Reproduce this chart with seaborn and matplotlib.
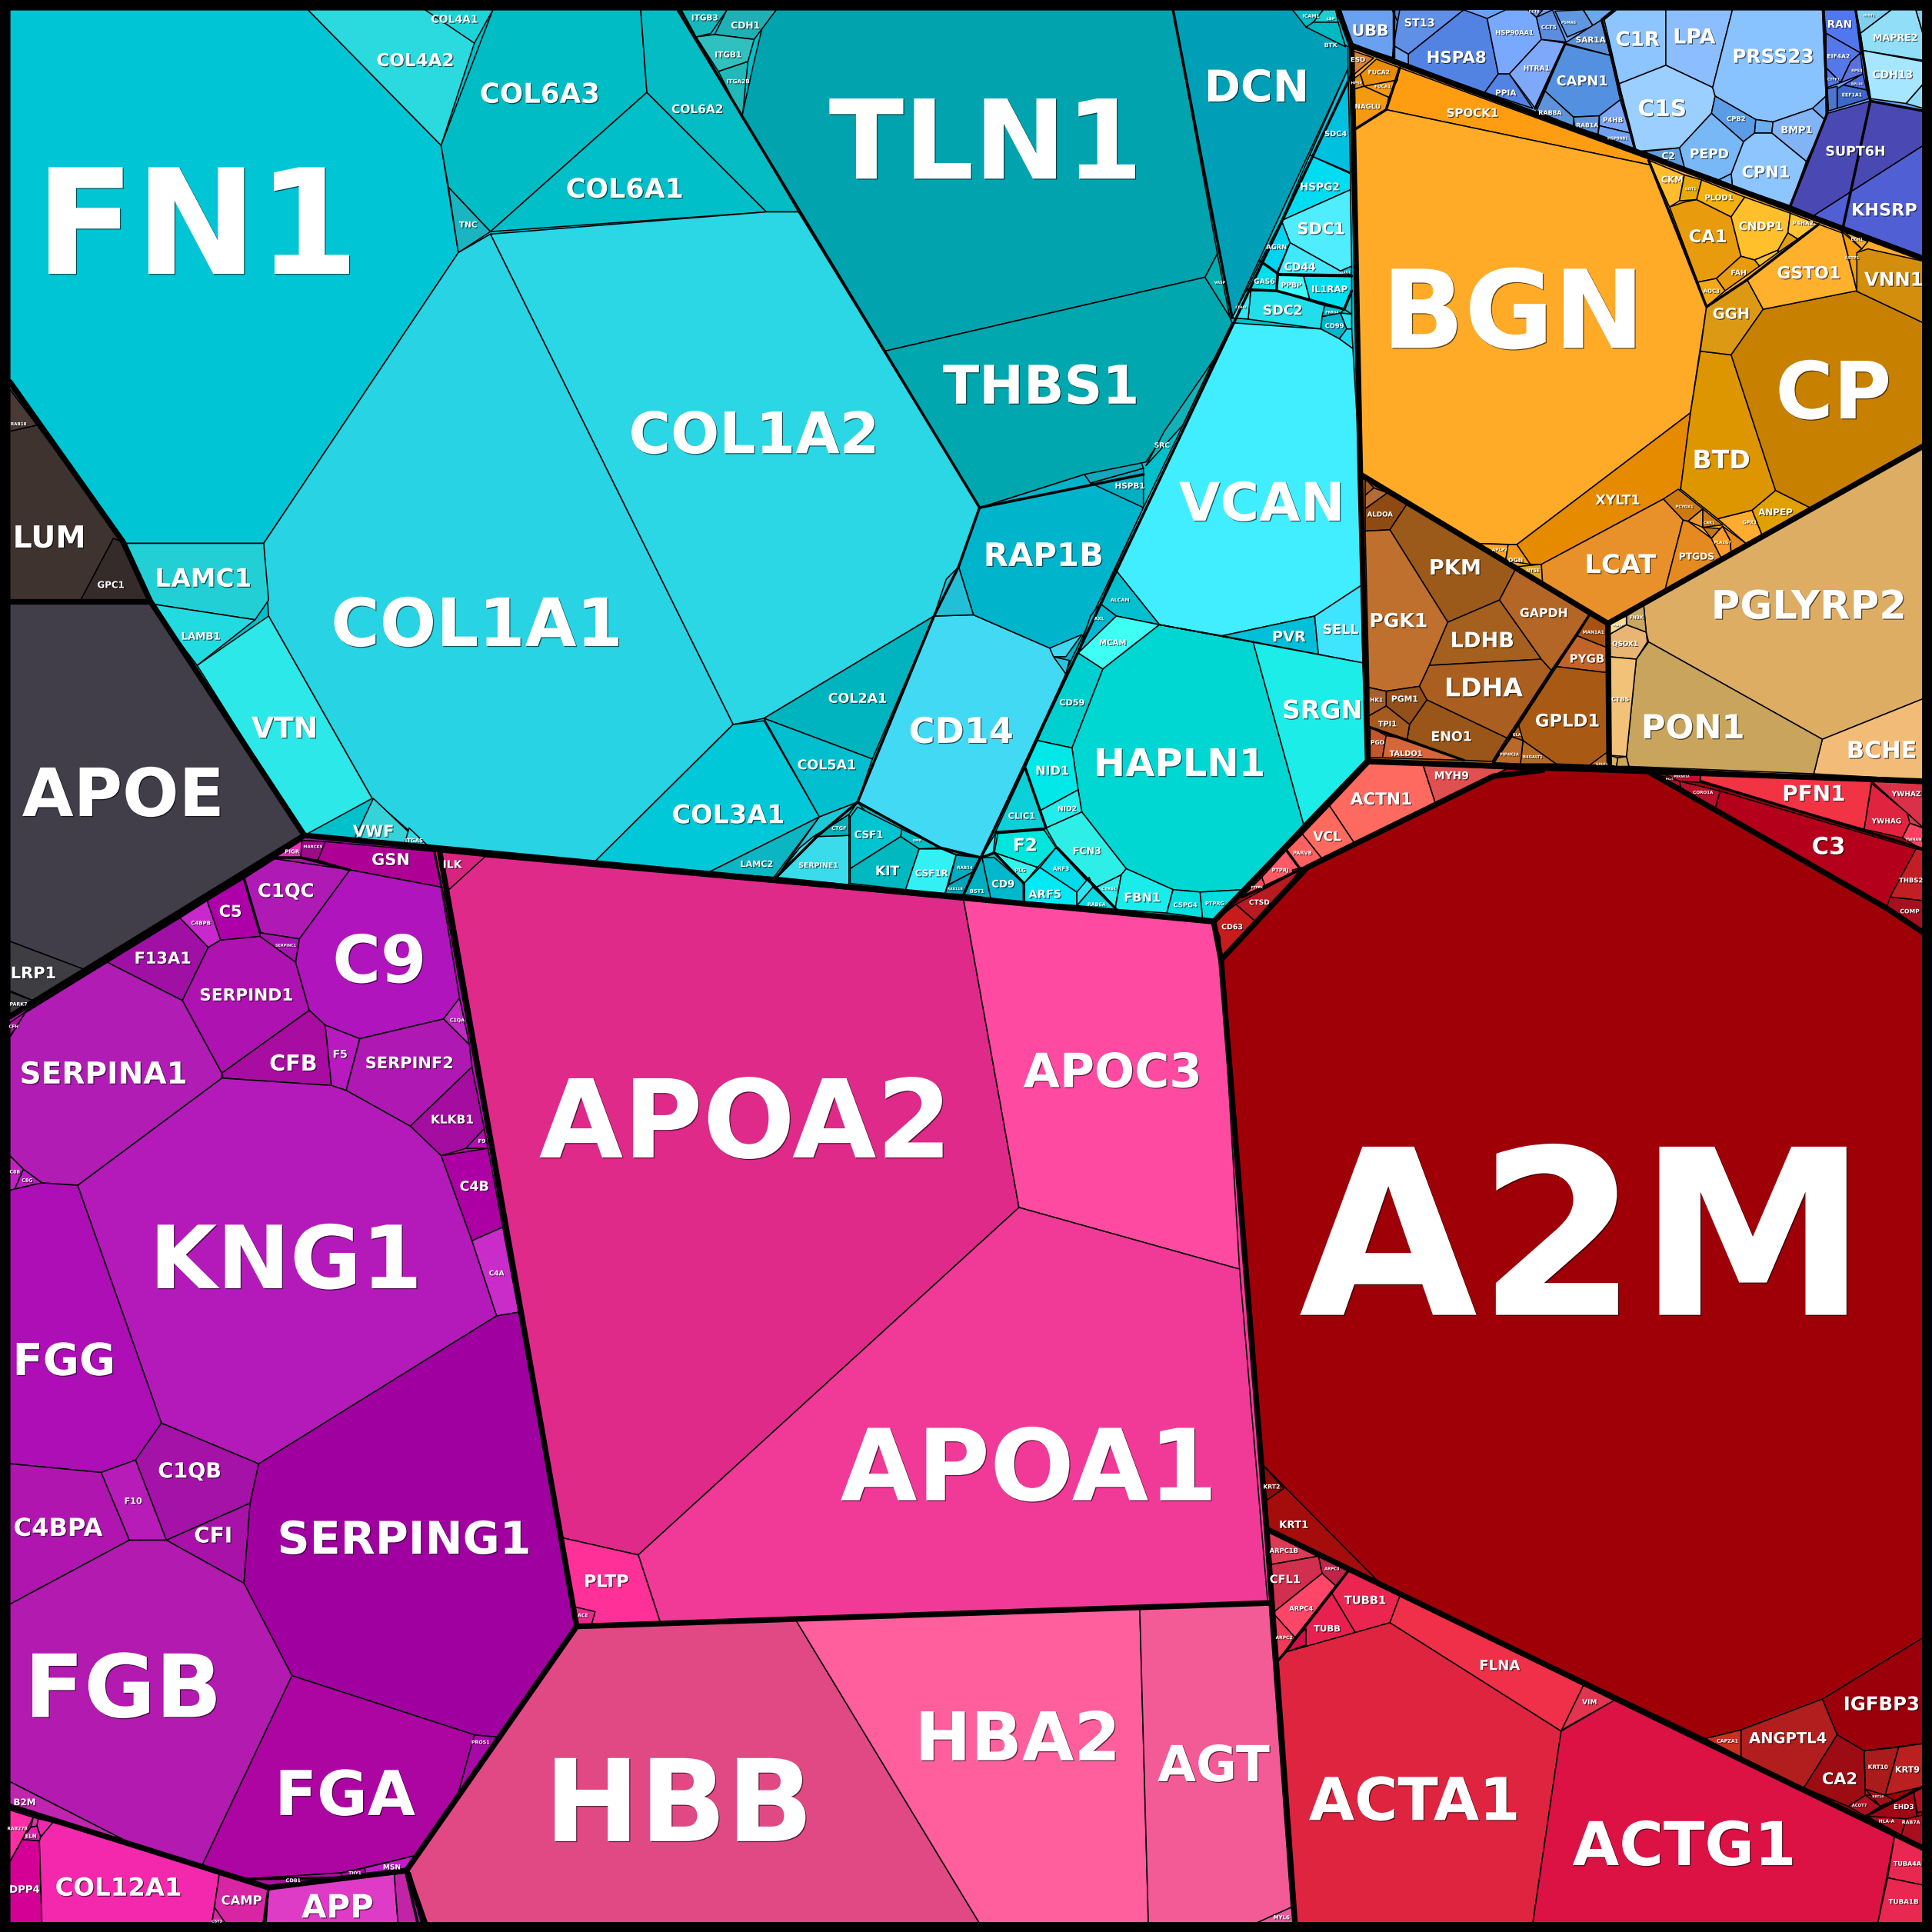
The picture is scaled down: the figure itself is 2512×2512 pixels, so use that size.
"""Voronoi treemap of plasma proteins, redrawn from picture read-offs."""
import matplotlib

matplotlib.use("Agg")
import matplotlib.patheffects as pe
import matplotlib.pyplot as plt
import seaborn as sns

CANVAS = 1568

# Underlay per top-level region, so that tiny cells left out don't show as holes.
region_outlines = {
    "matrix": [(8, 8), (1090, 8), (1097, 38), (1104, 385), (1110, 618), (985, 748), (247, 678), (122, 488), (8, 310)],
    "blue": [(1088, 8), (1561, 8), (1561, 210), (1096, 37)],
    "orange": [(1096, 38), (1561, 210), (1561, 362), (1305, 506), (1104, 385)],
    "brown": [(1104, 385), (1305, 506), (1306, 621), (1110, 618)],
    "beige": [(1305, 506), (1561, 362), (1561, 634), (1306, 621)],
    "red": [(985, 748), (1110, 618), (1561, 634), (1561, 1561), (1051, 1561), (1028, 1241)],
    "pink": [(357, 692), (985, 748), (1028, 1241), (1051, 1561), (345, 1561), (330, 1518), (468, 1320)],
    "purple": [(8, 825), (247, 678), (357, 692), (468, 1320), (330, 1518), (345, 1561), (8, 1561)],
    "dark": [(8, 310), (122, 488), (247, 678), (8, 825)],
}
region_fills = {
    "matrix": "#00c0cc", "blue": "#6aa0f0", "orange": "#ffab28", "brown": "#a85a14", "beige": "#ddad64",
    "red": "#9f0008", "pink": "#f13a97", "purple": "#ae10ac", "dark": "#413e49",
}

# Cell outlines, in a 1568 px frame.
outlines = {
    # matrix proteins
    "FN1": [(8, 8), (250, 8), (358, 118), (372, 205), (214, 441), (102, 441), (8, 310)],
    "COL4A2": [(250, 8), (352, 8), (385, 35), (358, 118)],
    "COL4A1": [(345, 8), (400, 8), (385, 35)],
    "COL6A3": [(400, 8), (520, 8), (525, 75), (398, 188), (364, 152), (358, 118)],
    "TNC": [(364, 152), (398, 188), (372, 205)],
    "COL6A1": [(525, 75), (622, 172), (398, 188)],
    "COL6A2": [(520, 8), (552, 8), (648, 172), (622, 172), (525, 75)],
    "COL1A2": [(398, 190), (622, 172), (648, 172), (795, 412), (778, 460), (758, 500), (620, 583), (595, 588)],
    "COL1A1": [(398, 190), (595, 588), (482, 700), (350, 690), (302, 648), (218, 500), (214, 441), (372, 205)],
    "VTN": [(218, 500), (302, 648), (247, 678), (160, 540)],
    "VWF": [(303, 648), (345, 688), (288, 680)],
    "ITGA5": [(332, 672), (350, 689), (328, 686)],
    "LAMC1": [(102, 441), (214, 441), (218, 487), (207, 503), (122, 490)],
    "LAMB1": [(122, 490), (207, 503), (160, 540)],
    "COL3A1": [(482, 700), (595, 588), (620, 585), (665, 663), (575, 708)],
    "COL2A1": [(620, 583), (758, 500), (708, 616)],
    "COL5A1": [(620, 583), (708, 616), (696, 651), (665, 663)],
    "LAMC2": [(575, 708), (665, 663), (628, 712)],
    "SERPINE1": [(630, 712), (649, 688), (660, 679), (689, 678), (689, 718)],
    "LAPM1": [(630, 712), (665, 663), (696, 651), (689, 661), (660, 679), (649, 688)],
    "CTGF": [(661, 679), (689, 661), (689, 678)],
    "x_sm1": [(689, 661), (696, 651), (702, 658), (690, 664)],
    "CD14": [(758, 500), (790, 499), (852, 526), (865, 547), (796, 696), (775, 693), (763, 688), (696, 651)],
    "RAP1B": [(795, 412), (880, 385), (928, 412), (866, 543), (852, 526), (790, 499), (778, 460)],
    "x_sm2": [(778, 460), (790, 499), (758, 500), (768, 470)],
    "HSPB1": [(885, 392), (928, 380), (928, 412)],
    "x_sm3": [(880, 385), (925, 372), (928, 380), (885, 392)],
    "CACNA2D1": [(852, 526), (878, 515), (865, 533), (855, 533)],
    "x_sm4": [(855, 533), (868, 536), (865, 547)],
    "TLN1": [(622, 8), (952, 8), (988, 206), (978, 225), (718, 285), (602, 95), (612, 50)],
    "ITGB3": [(553, 8), (590, 8), (577, 27), (565, 30)],
    "CDH1": [(590, 8), (630, 8), (612, 32), (580, 28)],
    "ITGB1": [(565, 30), (580, 28), (612, 32), (607, 50), (583, 58)],
    "ITGA2B": [(583, 58), (607, 50), (603, 90), (602, 95)],
    "THBS1": [(718, 285), (978, 225), (998, 257), (1000, 262), (985, 292), (930, 375), (880, 385), (795, 412)],
    "VASP": [(978, 225), (988, 206), (998, 257)],
    "SRC": [(985, 292), (960, 345), (930, 378), (945, 350)],
    "DCN": [(952, 8), (1050, 8), (1094, 38), (1094, 56), (1000, 258)],
    "ICAM1": [(1049, 8), (1074, 8), (1066, 18), (1060, 22)],
    "LBP": [(1074, 8), (1084, 8), (1086, 18), (1078, 20), (1066, 18)],
    "BTK": [(1060, 22), (1066, 18), (1086, 18), (1092, 38)],
    "SDC4": [(1094, 56), (1096, 140), (1063, 126)],
    "HSPG2": [(1063, 126), (1096, 141), (1096, 154), (1040, 179)],
    "SDC1": [(1040, 179), (1096, 154), (1097, 216), (1088, 220), (1047, 197)],
    "AGRN": [(1040, 179), (1047, 197), (1036, 222), (1023, 212)],
    "CD44": [(1047, 197), (1088, 220), (1097, 223), (1037, 222)],
    "DAG1": [(1088, 220), (1097, 216), (1097, 223)],
    "GAS6": [(1023, 212), (1037, 222), (1036, 236), (1012, 235)],
    "PPBP": [(1037, 223), (1058, 224), (1063, 243), (1036, 236)],
    "IL1RAP": [(1058, 224), (1097, 224), (1097, 236), (1091, 251), (1063, 243)],
    "SDC2": [(1015, 236), (1036, 236), (1075, 248), (1072, 267), (1013, 259)],
    "CDH2": [(1012, 235), (1015, 236), (1013, 259), (1000, 258)],
    "PRRG4": [(1075, 248), (1091, 251), (1088, 254), (1073, 257)],
    "CD99": [(1073, 257), (1088, 254), (1093, 267), (1087, 275), (1072, 267)],
    "x_sm5": [(1088, 254), (1097, 255), (1097, 267), (1093, 267)],
    "CD53": [(1093, 267), (1097, 267), (1098, 283), (1087, 275)],
    "x_sm6": [(1091, 251), (1097, 236), (1097, 255)],
    "VCAN": [(1000, 262), (1072, 267), (1087, 275), (1098, 283), (1104, 385), (1105, 475), (1067, 500), (992, 516), (941, 507), (905, 462), (928, 412)],
    "PVR": [(992, 516), (1067, 500), (1070, 531)],
    "SELL": [(1067, 500), (1105, 475), (1106, 538), (1070, 531)],
    "ALCAM": [(905, 462), (941, 507), (906, 500), (893, 490)],
    "AXL": [(893, 490), (906, 500), (875, 530), (885, 500)],
    "MCAM": [(906, 500), (941, 507), (895, 543), (875, 530)],
    "HAPLN1": [(895, 543), (941, 507), (1017, 521), (1058, 669), (1010, 722), (974, 724), (952, 722), (914, 705), (878, 659), (875, 641), (870, 607)],
    "SRGN": [(1017, 521), (941, 507), (1106, 538), (1110, 615), (1058, 669)],
    "CD59": [(875, 530), (895, 543), (870, 607), (842, 601), (865, 547)],
    "NID1": [(842, 601), (870, 607), (875, 641), (844, 658), (832, 623)],
    "NID2": [(844, 658), (875, 641), (878, 659), (849, 672)],
    "FCN3": [(849, 672), (878, 659), (914, 705), (910, 710), (890, 720), (858, 688)],
    "CLIC1": [(832, 623), (849, 672), (808, 675)],
    "F2": [(810, 676), (847, 673), (857, 688), (842, 704), (807, 692)],
    "PLG": [(807, 692), (842, 704), (831, 717)],
    "CD9": [(797, 696), (807, 696), (831, 717), (831, 732), (804, 729)],
    "BST1": [(795, 696), (797, 696), (804, 729), (782, 726)],
    "x_sm7": [(797, 695), (808, 676), (806, 693)],
    "ARF5": [(831, 717), (844, 704), (874, 724), (874, 735), (831, 732)],
    "ARF3": [(844, 704), (857, 688), (885, 718), (874, 724)],
    "x_sm8": [(874, 724), (884, 712), (887, 720), (874, 735)],
    "RAB6A": [(887, 720), (906, 738), (874, 735)],
    "CYR61": [(890, 720), (910, 710), (905, 737)],
    "FBN1": [(910, 710), (914, 705), (952, 722), (947, 741), (905, 738)],
    "CSPG4": [(952, 722), (974, 724), (976, 745), (947, 741)],
    "PTPRG": [(974, 724), (1010, 722), (985, 746), (976, 745)],
    "CSF1": [(690, 663), (696, 655), (732, 673), (731, 679), (690, 705)],
    "GMB": [(732, 673), (764, 688), (746, 689), (731, 679)],
    "KIT": [(690, 705), (731, 679), (746, 689), (735, 722), (690, 717)],
    "CSF1R": [(746, 689), (764, 689), (776, 694), (767, 725), (735, 722)],
    "RAB14": [(776, 694), (795, 696), (789, 708), (770, 718)],
    "RAB11B": [(770, 718), (789, 708), (782, 726), (767, 725)],
    # blue group
    "UBB": [(1088, 8), (1130, 8), (1134, 17), (1131, 47), (1097, 36)],
    "STX": [(1130, 8), (1141, 8), (1134, 17)],
    "ST13": [(1136, 8), (1188, 8), (1143, 44), (1131, 37)],
    "HSPA8": [(1188, 8), (1207, 15), (1216, 60), (1205, 75), (1143, 53), (1143, 44)],
    "TXN": [(1131, 37), (1143, 44), (1143, 53), (1130, 48)],
    "HSP90AA1": [(1207, 15), (1222, 8), (1240, 8), (1247, 14), (1251, 32), (1225, 60), (1216, 60)],
    "PPIA": [(1216, 60), (1225, 60), (1244, 88), (1205, 75)],
    "HTRA1": [(1225, 60), (1251, 32), (1270, 35), (1246, 88)],
    "CCT8": [(1240, 8), (1252, 8), (1247, 14)],
    "CCT5": [(1247, 14), (1260, 8), (1271, 34), (1251, 32)],
    "PSMA6": [(1262, 9), (1285, 8), (1293, 21), (1272, 30)],
    "PSMA3": [(1285, 8), (1310, 8), (1300, 16), (1293, 21)],
    "SAR1A": [(1300, 16), (1307, 45), (1270, 35)],
    "CAPN1": [(1270, 36), (1307, 45), (1315, 81), (1298, 94), (1277, 95), (1254, 74)],
    "RAB8A": [(1254, 74), (1277, 95), (1277, 103), (1247, 90)],
    "RAB1A": [(1277, 95), (1298, 94), (1297, 109), (1278, 103)],
    "P4HB": [(1298, 94), (1315, 81), (1323, 108), (1298, 102)],
    "HSP90B1": [(1298, 102), (1323, 108), (1327, 121), (1297, 109)],
    "C1R": [(1302, 16), (1312, 8), (1352, 8), (1352, 53), (1314, 68)],
    "LPA": [(1352, 8), (1406, 8), (1390, 71), (1352, 53)],
    "C1S": [(1314, 68), (1352, 53), (1390, 71), (1392, 78), (1389, 92), (1363, 120), (1327, 123), (1323, 108)],
    "PRSS23": [(1406, 8), (1479, 8), (1482, 78), (1471, 88), (1439, 99), (1425, 97), (1392, 78), (1390, 71)],
    "CPB2": [(1392, 78), (1425, 97), (1424, 108), (1415, 115), (1389, 92)],
    "x_sm9": [(1425, 97), (1439, 99), (1438, 108), (1424, 108)],
    "BMP1": [(1439, 99), (1471, 88), (1482, 98), (1466, 131), (1438, 108)],
    "FMP2": [(1471, 88), (1482, 78), (1482, 98)],
    "CPN1": [(1415, 115), (1424, 108), (1438, 108), (1466, 131), (1453, 167), (1406, 151), (1405, 141)],
    "PEPD": [(1363, 120), (1389, 92), (1415, 115), (1405, 141), (1395, 146), (1367, 136)],
    "C2": [(1334, 123), (1363, 120), (1367, 136)],
    "x_sm10": [(1395, 146), (1405, 141), (1406, 151)],
    "RAN": [(1480, 8), (1506, 8), (1510, 43), (1482, 27)],
    "EIF4A2": [(1482, 27), (1510, 43), (1502, 50), (1494, 67), (1482, 55)],
    "RPS3": [(1502, 50), (1510, 43), (1512, 60), (1494, 67)],
    "RPL18": [(1512, 60), (1515, 73), (1496, 69)],
    "CYFP1": [(1482, 55), (1494, 67), (1483, 71)],
    "EEF1A1": [(1496, 69), (1515, 73), (1517, 80), (1491, 88), (1491, 72)],
    "x_sm11": [(1483, 72), (1491, 70), (1491, 88), (1484, 90)],
    "HIST1": [(1506, 8), (1535, 8), (1510, 27)],
    "MAPRE2": [(1510, 27), (1535, 8), (1555, 8), (1561, 29), (1561, 49), (1512, 41)],
    "x_sm12": [(1555, 8), (1561, 8), (1561, 29)],
    "CDH13": [(1512, 41), (1561, 50), (1561, 68), (1547, 84), (1518, 80), (1515, 73)],
    "x_sm13": [(1547, 84), (1561, 68), (1561, 88)],
    "SUPT6H": [(1518, 82), (1561, 90), (1561, 118), (1472, 175), (1453, 167), (1483, 92)],
    "KHSRP": [(1561, 118), (1561, 208), (1472, 175)],
    # orange group
    "SPOCK1": [(1136, 55), (1338, 129), (1340, 134), (1125, 89), (1127, 79)],
    "BGN": [(1098, 106), (1125, 89), (1340, 134), (1385, 249), (1372, 335), (1231, 442), (1197, 441), (1104, 385)],
    "XYLT1": [(1372, 335), (1364, 397), (1350, 405), (1251, 458), (1242, 458), (1231, 442)],
    "APLP2": [(1197, 441), (1224, 442), (1222, 455)],
    "OGN": [(1224, 442), (1231, 442), (1242, 458), (1222, 455)],
    "NT5E": [(1230, 460), (1251, 458), (1252, 473)],
    "LCAT": [(1251, 458), (1350, 405), (1366, 422), (1351, 480), (1305, 506), (1252, 473)],
    "PTGDS": [(1366, 422), (1370, 423), (1389, 437), (1397, 453), (1351, 480)],
    "PCYOX1": [(1362, 397), (1382, 413), (1370, 423), (1366, 422), (1350, 405)],
    "x_sm14": [(1370, 423), (1382, 413), (1382, 428)],
    "CBR1": [(1382, 413), (1398, 426), (1382, 428)],
    "x_sm15": [(1382, 428), (1396, 429), (1389, 437)],
    "PLA2G7": [(1389, 437), (1398, 427), (1404, 438), (1405, 448), (1397, 453)],
    "HTRA2": [(1398, 427), (1417, 441), (1405, 448), (1404, 438)],
    "GPX1": [(1394, 421), (1422, 414), (1430, 434), (1417, 441)],
    "ANPEP": [(1422, 414), (1441, 398), (1469, 412), (1430, 434)],
    "BTD": [(1372, 335), (1380, 285), (1405, 288), (1441, 398), (1422, 414), (1394, 421), (1364, 397)],
    "GGH": [(1385, 249), (1418, 227), (1431, 251), (1405, 288), (1380, 285)],
    "CP": [(1431, 251), (1506, 236), (1561, 262), (1561, 362), (1469, 412), (1441, 398), (1405, 288)],
    "VNN1": [(1506, 236), (1507, 205), (1516, 202), (1561, 212), (1561, 262)],
    "GSTO1": [(1476, 182), (1495, 189), (1507, 236), (1431, 251), (1418, 227)],
    "GSTP1": [(1495, 188), (1511, 202), (1507, 205), (1507, 236)],
    "ECH1": [(1497, 188), (1516, 196), (1511, 202)],
    "CA1": [(1355, 168), (1367, 164), (1377, 162), (1405, 176), (1413, 208), (1393, 226), (1378, 229)],
    "CKM": [(1338, 130), (1367, 142), (1363, 163), (1355, 168)],
    "GOT1": [(1367, 142), (1381, 146), (1377, 162), (1363, 163)],
    "PLOD1": [(1381, 146), (1416, 160), (1405, 176), (1377, 162)],
    "CNDP1": [(1416, 160), (1453, 173), (1451, 189), (1443, 203), (1424, 211), (1413, 208), (1405, 176)],
    "P4HA2": [(1453, 173), (1476, 182), (1459, 194), (1451, 189)],
    "x_sm16": [(1451, 189), (1459, 194), (1443, 205), (1443, 203)],
    "x_sm17": [(1424, 211), (1443, 203), (1443, 205), (1428, 216)],
    "FAH": [(1413, 208), (1424, 211), (1428, 216), (1400, 236), (1393, 226)],
    "AOC3": [(1378, 229), (1393, 226), (1400, 236), (1385, 249)],
    "ESD": [(1097, 41), (1115, 47), (1097, 62)],
    "FUCA2": [(1117, 48), (1136, 55), (1134, 65), (1107, 70), (1104, 60)],
    "FUCA1": [(1107, 70), (1134, 65), (1127, 79)],
    "HPSE": [(1097, 65), (1104, 60), (1107, 70), (1097, 73)],
    "NAGLU": [(1097, 73), (1107, 70), (1127, 79), (1125, 89), (1098, 106)],
    # brown group
    "MDN1": [(1108, 388), (1115, 396), (1108, 402)],
    "ADH5": [(1108, 402), (1115, 396), (1126, 400), (1108, 413)],
    "ALDOA": [(1126, 400), (1142, 409), (1128, 430), (1108, 431), (1108, 413)],
    "PKM": [(1142, 409), (1230, 462), (1217, 487), (1175, 505), (1128, 430)],
    "PGK1": [(1108, 431), (1128, 430), (1175, 505), (1160, 540), (1152, 557), (1125, 561), (1111, 558)],
    "LDHB": [(1175, 505), (1217, 487), (1251, 535), (1160, 540)],
    "LDHA": [(1160, 540), (1251, 535), (1259, 544), (1223, 599), (1158, 568), (1152, 557)],
    "GAPDH": [(1230, 462), (1290, 499), (1259, 544), (1251, 535), (1217, 487)],
    "MAN1A1": [(1290, 499), (1305, 506), (1305, 526), (1280, 516)],
    "PYGB": [(1280, 516), (1305, 526), (1305, 546), (1263, 541)],
    "GPLD1": [(1263, 541), (1305, 546), (1305, 617), (1290, 621), (1263, 620), (1236, 601), (1232, 587)],
    "GALK1": [(1290, 621), (1305, 610), (1305, 621)],
    "GLA": [(1232, 587), (1236, 601), (1227, 598)],
    "B4GALT1": [(1236, 601), (1263, 620), (1234, 620)],
    "PIP4K2A": [(1227, 598), (1236, 601), (1234, 620), (1212, 619)],
    "ENO1": [(1158, 568), (1223, 599), (1211, 618), (1188, 617), (1142, 600), (1144, 588)],
    "PGM1": [(1125, 561), (1152, 557), (1158, 568), (1144, 588), (1125, 573)],
    "HK1": [(1111, 558), (1125, 561), (1125, 573), (1111, 581)],
    "TPI1": [(1111, 590), (1111, 581), (1125, 573), (1144, 588), (1142, 600)],
    "PGD": [(1112, 590), (1125, 597), (1122, 615), (1112, 615)],
    "TALDO1": [(1125, 597), (1142, 600), (1188, 617), (1122, 615)],
    # beige group
    "PGLYRP2": [(1334, 491), (1561, 362), (1561, 567), (1479, 600), (1338, 521), (1336, 513)],
    "BCHE": [(1479, 600), (1561, 567), (1561, 633), (1472, 628)],
    "PON1": [(1338, 521), (1479, 600), (1472, 628), (1322, 622), (1320, 614), (1328, 535)],
    "QSOX1": [(1306, 515), (1320, 507), (1336, 513), (1337, 521), (1328, 535), (1306, 533)],
    "CTBS": [(1306, 533), (1328, 535), (1320, 614), (1306, 613)],
    "FN3K": [(1320, 500), (1334, 491), (1336, 513), (1320, 507)],
    "MASP": [(1306, 506), (1320, 500), (1320, 507), (1306, 515)],
    "x_sm18": [(1306, 613), (1313, 615), (1312, 622), (1306, 621)],
    "SODD": [(1313, 615), (1320, 614), (1322, 622), (1312, 622)],
    # big red cell and neighbours
    "A2M": [(991, 779), (1061, 704), (1099, 685), (1212, 630), (1252, 625), (1339, 627), (1392, 656), (1531, 737), (1561, 757), (1561, 1329), (1479, 1379), (1413, 1404), (1384, 1411), (1120, 1285), (1024, 1188)],
    "KRT1": [(1024, 1188), (1120, 1285), (1028, 1241)],
    "KRT2": [(1024, 1188), (1042, 1208), (1026, 1219)],
    "ARPC1B": [(1028, 1241), (1070, 1263), (1030, 1270)],
    "ARPC3": [(1070, 1263), (1095, 1274), (1084, 1287), (1073, 1277)],
    "CFL1": [(1030, 1270), (1070, 1263), (1073, 1277), (1033, 1309)],
    "ARPC4": [(1073, 1277), (1084, 1287), (1051, 1329), (1033, 1309)],
    "ARPC2": [(1033, 1309), (1051, 1329), (1037, 1348)],
    "TUBB": [(1081, 1293), (1100, 1325), (1043, 1341)],
    "x_sm19": [(1051, 1329), (1060, 1322), (1060, 1335), (1043, 1341)],
    "TUBB1": [(1095, 1274), (1137, 1293), (1128, 1317), (1100, 1325), (1081, 1293)],
    "FLNA": [(1137, 1293), (1286, 1366), (1267, 1405), (1128, 1317)],
    "VIM": [(1286, 1366), (1312, 1379), (1271, 1402), (1267, 1405)],
    "ACTA1": [(1037, 1348), (1043, 1341), (1128, 1317), (1267, 1405), (1244, 1561), (1051, 1561)],
    "ACTG1": [(1267, 1405), (1312, 1379), (1538, 1488), (1524, 1561), (1244, 1561)],
    "TUBA4A": [(1538, 1488), (1561, 1500), (1561, 1530), (1532, 1524)],
    "TUBA1B": [(1532, 1524), (1561, 1530), (1561, 1561), (1524, 1561)],
    "IGFBP3": [(1479, 1379), (1561, 1329), (1561, 1415), (1513, 1421), (1491, 1408)],
    "ANGPTL4": [(1413, 1404), (1479, 1379), (1491, 1408), (1464, 1451), (1413, 1426)],
    "CAPZA1": [(1384, 1411), (1413, 1404), (1413, 1426)],
    "CA2": [(1491, 1408), (1513, 1421), (1514, 1457), (1500, 1466), (1464, 1451)],
    "KRT10": [(1513, 1421), (1541, 1418), (1530, 1457), (1514, 1457)],
    "KRT9": [(1541, 1418), (1561, 1415), (1561, 1450), (1530, 1457)],
    "ACOT7": [(1514, 1457), (1526, 1466), (1514, 1474), (1500, 1466)],
    "KRT14": [(1514, 1452), (1530, 1457), (1537, 1461), (1526, 1466)],
    "EHD3": [(1514, 1474), (1553, 1453), (1556, 1476), (1537, 1479)],
    "x_sm20": [(1553, 1453), (1561, 1450), (1561, 1470), (1556, 1471)],
    "HLA-A": [(1514, 1474), (1547, 1476), (1543, 1490)],
    "RAB7A": [(1547, 1476), (1561, 1473), (1561, 1500), (1543, 1490)],
    "PFN1": [(1380, 629), (1519, 634), (1513, 673), (1380, 635)],
    "C3": [(1396, 642), (1555, 689), (1531, 737), (1392, 656)],
    "THBS2": [(1555, 689), (1561, 690), (1561, 731), (1534, 728)],
    "COMP": [(1534, 728), (1561, 731), (1561, 757), (1531, 737)],
    "CORO1A": [(1363, 634), (1396, 642), (1392, 656), (1364, 639)],
    "PKLS": [(1339, 627), (1363, 634), (1364, 639), (1350, 632)],
    "PRKAR1A": [(1350, 628), (1380, 629), (1380, 635), (1363, 634)],
    "YWHAZ": [(1519, 634), (1561, 636), (1561, 672)],
    "YWHAG": [(1519, 636), (1548, 660), (1550, 668), (1544, 680), (1513, 673)],
    "YWHAN": [(1550, 668), (1561, 672), (1561, 690), (1544, 680)],
    "x_sm21": [(1548, 660), (1561, 672), (1550, 668)],
    "ACTN1": [(1112, 619), (1155, 621), (1165, 652), (1099, 684), (1079, 654)],
    "MYH9": [(1155, 621), (1223, 624), (1165, 652)],
    "PPP1K": [(1223, 624), (1252, 625), (1212, 630)],
    "VCL": [(1079, 654), (1099, 684), (1073, 697), (1057, 677)],
    "PARVB": [(1057, 677), (1073, 697), (1061, 703), (1055, 705), (1044, 690)],
    "PTPRJ": [(1044, 690), (1055, 705), (1027, 720), (1024, 712)],
    "PTPRK": [(1024, 712), (1027, 720), (1008, 728)],
    "ILN": [(1049, 706), (1061, 703), (1049, 714)],
    "CTSD": [(1055, 706), (1049, 714), (1019, 748), (1003, 734)],
    "CD63": [(985, 748), (1003, 734), (1019, 748), (991, 779)],
    # pink group
    "APOA2": [(357, 692), (782, 730), (827, 980), (518, 1262), (456, 1248), (360, 726)],
    "APOC3": [(782, 730), (985, 748), (990, 760), (1006, 1030), (827, 980)],
    "APOA1": [(827, 980), (1006, 1030), (1029, 1302), (536, 1317), (518, 1262)],
    "PLTP": [(456, 1248), (518, 1262), (536, 1317), (468, 1320)],
    "ACE": [(466, 1304), (483, 1308), (480, 1319), (468, 1320)],
    "ILK": [(353, 691), (394, 695), (360, 726)],
    "HBB": [(468, 1320), (646, 1315), (795, 1561), (345, 1561), (330, 1518)],
    "HBA2": [(646, 1315), (925, 1305), (932, 1561), (795, 1561)],
    "AGT": [(925, 1305), (1030, 1301), (1048, 1548), (1019, 1561), (932, 1561)],
    "MYL6": [(1019, 1561), (1048, 1548), (1051, 1561)],
    # purple group
    "GSN": [(264, 683), (352, 691), (358, 720), (284, 706), (258, 698)],
    "MARCKS": [(245, 682), (264, 683), (258, 698), (244, 696)],
    "PIGR": [(245, 682), (244, 696), (223, 696)],
    "C1QC": [(223, 697), (284, 706), (243, 762), (211, 757), (198, 713)],
    "C5": [(198, 713), (211, 757), (211, 760), (179, 763), (168, 731)],
    "C4BPB": [(168, 731), (179, 763), (169, 769), (146, 745)],
    "F13A1": [(146, 745), (169, 769), (148, 812), (87, 781)],
    "SERPINC1": [(211, 757), (243, 762), (240, 781), (211, 760)],
    "SERPIND1": [(169, 769), (179, 763), (211, 760), (240, 781), (251, 820), (180, 871), (148, 812)],
    "C9": [(284, 706), (358, 720), (373, 810), (360, 827), (292, 843), (264, 832), (251, 820), (240, 781), (243, 762)],
    "C1QA": [(373, 810), (381, 848), (360, 827)],
    "CFB": [(251, 820), (264, 832), (269, 881), (181, 875), (180, 871)],
    "F5": [(264, 832), (292, 843), (281, 885), (269, 881)],
    "SERPINF2": [(292, 843), (360, 827), (381, 848), (383, 866), (333, 914), (281, 885)],
    "KLKB1": [(383, 866), (393, 916), (378, 932), (358, 938), (333, 914)],
    "F9": [(393, 916), (396, 932), (378, 932)],
    "C4B": [(358, 938), (396, 932), (408, 996), (383, 1007)],
    "C4A": [(383, 1007), (408, 996), (421, 1065), (403, 1068)],
    "KNG1": [(180, 875), (269, 881), (281, 885), (333, 914), (358, 938), (383, 1007), (403, 1068), (210, 1188), (131, 1155), (63, 962)],
    "SERPINA1": [(87, 781), (148, 812), (180, 871), (180, 875), (63, 962), (34, 960), (19, 949), (8, 938), (8, 842), (21, 821)],
    "CFH": [(21, 821), (8, 841), (8, 830)],
    "C8B": [(8, 938), (19, 949), (12, 965), (8, 966)],
    "C8G": [(19, 949), (34, 960), (12, 965)],
    "FGG": [(8, 966), (34, 960), (63, 962), (131, 1155), (110, 1185), (82, 1195), (8, 1188)],
    "C1QB": [(131, 1155), (210, 1188), (203, 1220), (135, 1250), (110, 1185)],
    "F10": [(82, 1195), (110, 1185), (135, 1250), (105, 1250)],
    "CFI": [(135, 1250), (203, 1220), (198, 1285)],
    "C4BPA": [(8, 1188), (82, 1195), (105, 1250), (8, 1302)],
    "SERPING1": [(210, 1188), (403, 1068), (421, 1065), (468, 1320), (405, 1410), (385, 1408), (237, 1360), (198, 1285), (203, 1220)],
    "FGB": [(8, 1302), (105, 1250), (135, 1250), (198, 1285), (237, 1360), (164, 1514), (110, 1498), (8, 1446)],
    "FGA": [(237, 1360), (385, 1408), (372, 1455), (337, 1506), (277, 1520), (197, 1525), (164, 1514)],
    "PROS1": [(385, 1408), (405, 1410), (372, 1455)],
    "B2M": [(8, 1446), (110, 1498), (8, 1466)],
    "THY1": [(277, 1520), (296, 1516), (297, 1521), (277, 1524)],
    "MSN": [(296, 1516), (337, 1506), (329, 1518), (297, 1521)],
    "CD81": [(197, 1525), (277, 1520), (277, 1524), (218, 1531)],
    "RAB27B": [(8, 1469), (27, 1475), (18, 1493), (8, 1511)],
    "x_sm22": [(27, 1475), (31, 1476), (30, 1482), (25, 1483)],
    "SLC": [(31, 1476), (43, 1479), (33, 1491), (30, 1482)],
    "ELN": [(25, 1483), (30, 1482), (33, 1491), (32, 1494), (18, 1493)],
    "DPP4": [(18, 1493), (32, 1494), (34, 1561), (8, 1561), (8, 1511)],
    "COL12A1": [(43, 1479), (110, 1498), (178, 1521), (172, 1561), (34, 1561), (32, 1494), (33, 1491)],
    "CAMP": [(178, 1521), (218, 1532), (214, 1561), (183, 1561), (174, 1548)],
    "CST3": [(174, 1548), (183, 1561), (172, 1561)],
    "APP": [(218, 1532), (320, 1521), (323, 1561), (216, 1561)],
    "APLP1": [(320, 1521), (329, 1520), (339, 1561), (323, 1561)],
    "x_sm23": [(331, 1520), (342, 1561), (345, 1561), (333, 1520)],
    "LUM": [(8, 350), (30, 345), (100, 440), (92, 437), (65, 488), (8, 488)],
    "RAB18": [(8, 316), (30, 345), (8, 350)],
    "GPC1": [(92, 437), (100, 440), (122, 488), (65, 488)],
    "APOE": [(8, 488), (122, 488), (247, 678), (69, 787), (8, 764)],
    "LRP1": [(8, 764), (69, 787), (29, 813), (8, 804)],
    "PARK7": [(8, 805), (29, 813), (8, 825)],
}

fills = {
    "FN1": "#00c5d4", "COL4A2": "#2adade", "COL4A1": "#1cd4d8", "COL6A3": "#00bcc4", "TNC": "#1ab5c0", "COL6A1": "#00bfc8",
    "COL6A2": "#04bcc4", "COL1A2": "#2bd6e5", "COL1A1": "#28d3e3", "VTN": "#2ce8e8", "VWF": "#35d2d8", "ITGA5": "#33d8e8",
    "LAMC1": "#22cfd5", "LAMB1": "#22dbe0", "COL3A1": "#00c8d8", "COL2A1": "#00b4bf", "COL5A1": "#02bfcf", "LAMC2": "#0bb5c2",
    "SERPINE1": "#3adceb", "LAPM1": "#1ec9d6", "CTGF": "#00b0b8", "x_sm1": "#16b8c4", "CD14": "#42d9f4", "RAP1B": "#00b4cc",
    "x_sm2": "#22c0d8", "HSPB1": "#00aec2", "x_sm3": "#14a8bc", "CACNA2D1": "#3fd8f0", "x_sm4": "#28c4e0", "TLN1": "#00a3ae",
    "ITGB3": "#14b8bd", "CDH1": "#1fb0b5", "ITGB1": "#30c0c0", "ITGA2B": "#20b8b8", "THBS1": "#00a7ae", "VASP": "#00aeb0",
    "SRC": "#10b2b8", "DCN": "#009fb8", "ICAM1": "#00bcc4", "LBP": "#22ccd0", "BTK": "#00b8c2", "SDC4": "#00c0e0",
    "HSPG2": "#00ddf2", "SDC1": "#50ecff", "AGRN": "#00d4f0", "CD44": "#42e7fc", "DAG1": "#0cc4dd", "GAS6": "#00e0ea",
    "PPBP": "#3effff", "IL1RAP": "#00dff0", "SDC2": "#22ddea", "CDH2": "#33e8f0", "PRRG4": "#00bfd0", "CD99": "#00b5cc",
    "x_sm5": "#22e4f0", "CD53": "#1ad9ee", "x_sm6": "#22c4cc", "VCAN": "#40eeff", "PVR": "#00bfd8", "SELL": "#3fe4ff",
    "ALCAM": "#00c0d0", "AXL": "#00b8d0", "MCAM": "#3ffff5", "HAPLN1": "#00d6d2", "SRGN": "#1cede8", "CD59": "#00cfd0",
    "NID1": "#00e8e8", "NID2": "#22ecec", "FCN3": "#2eefe8", "CLIC1": "#0dcfd8", "F2": "#00e5dc", "PLG": "#33f5ec",
    "CD9": "#00b8cc", "BST1": "#00afc0", "x_sm7": "#33ecf5", "ARF5": "#00eaf5", "ARF3": "#00dcea", "x_sm8": "#2ee6f0",
    "RAB6A": "#0cd8e0", "CYR61": "#2cf0ee", "FBN1": "#1aecec", "CSPG4": "#00e0e0", "PTPRG": "#00dddc", "CSF1": "#00c4d0",
    "GMB": "#00bfc8", "KIT": "#00b8c0", "CSF1R": "#33f0f5", "RAB14": "#00adc0", "RAB11B": "#00a5ba",
    "UBB": "#6aa0f0", "STX": "#5580d8", "ST13": "#5f8fe6", "HSPA8": "#5283e3", "TXN": "#6fa5f2", "HSP90AA1": "#79a8ff",
    "PPIA": "#5283e3", "HTRA1": "#7ea8fa", "CCT8": "#6c9ef0", "CCT5": "#5a8ce0", "PSMA6": "#5f98e0", "PSMA3": "#6aa8ea",
    "SAR1A": "#5e8fd6", "CAPN1": "#5490e0", "RAB8A": "#5e92da", "RAB1A": "#5e92da", "P4HB": "#7aa6f5", "HSP90B1": "#6fa0ef",
    "C1R": "#8cc5ff", "LPA": "#8cbeff", "C1S": "#9acfff", "PRSS23": "#88c2ff", "CPB2": "#5b9ce6", "x_sm9": "#6aadef",
    "BMP1": "#82b4f5", "FMP2": "#6ba4ec", "CPN1": "#8cc5ff", "PEPD": "#79b8f6", "C2": "#5e9edd", "x_sm10": "#72b0f2",
    "RAN": "#5077ee", "EIF4A2": "#5578e8", "RPS3": "#5a70da", "RPL18": "#4e68e0", "CYFP1": "#5578e8", "EEF1A1": "#3d68c8",
    "x_sm11": "#4e74d0", "HIST1": "#80cfee", "MAPRE2": "#90def8", "x_sm12": "#80d0ec", "CDH13": "#a6e6ff", "x_sm13": "#90dcf5",
    "SUPT6H": "#4a49b4", "KHSRP": "#5060d4",
    "SPOCK1": "#ff9d12", "BGN": "#ffab28", "XYLT1": "#e68a00", "APLP2": "#ffa528", "OGN": "#f09a1c", "NT5E": "#e0a628",
    "LCAT": "#e8912a", "PTGDS": "#e58a20", "PCYOX1": "#cc7a10", "x_sm14": "#e89930", "CBR1": "#cf7a12", "x_sm15": "#c07a18",
    "PLA2G7": "#ff9b2c", "HTRA2": "#e88a1c", "GPX1": "#ffac30", "ANPEP": "#e0a000", "BTD": "#dd9600", "GGH": "#dc9a14",
    "CP": "#c88000", "VNN1": "#d38e0d", "GSTO1": "#ffb02c", "GSTP1": "#f59e0b", "ECH1": "#f0b030", "CA1": "#e89b0c",
    "CKM": "#ffbd2e", "GOT1": "#e8a808", "PLOD1": "#f4b010", "CNDP1": "#ffc02c", "P4HA2": "#ffc535", "x_sm16": "#e0a010",
    "x_sm17": "#f6c22e", "FAH": "#e89b0c", "AOC3": "#f2a818", "ESD": "#d68130", "FUCA2": "#e88e06", "FUCA1": "#f29a10",
    "HPSE": "#e08a0a", "NAGLU": "#f49a10",
    "MDN1": "#a05a20", "ADH5": "#b56b35", "ALDOA": "#8f4a12", "PKM": "#9c5a1a", "PGK1": "#c0702e", "LDHB": "#a56020",
    "LDHA": "#aa5e20", "GAPDH": "#b46627", "MAN1A1": "#a75212", "PYGB": "#c2642a", "GPLD1": "#a85a14", "GALK1": "#b56a22",
    "GLA": "#a85a14", "B4GALT1": "#b56a22", "PIP4K2A": "#b9692a", "ENO1": "#9a5518", "PGM1": "#94501a", "HK1": "#a55e2c",
    "TPI1": "#a55a20", "PGD": "#c4562c", "TALDO1": "#d4663a",
    "PGLYRP2": "#ddad64", "BCHE": "#f2bc78", "PON1": "#c9a45c", "QSOX1": "#e8b574", "CTBS": "#f2c278", "FN3K": "#c9a662",
    "MASP": "#ffde8c", "x_sm18": "#d9b060", "SODD": "#cfa658",
    "A2M": "#9f0008", "KRT1": "#a50c0c", "KRT2": "#8d0a0a", "ARPC1B": "#dd3a55", "ARPC3": "#c0244a", "CFL1": "#d22e4e",
    "ARPC4": "#ff4568", "ARPC2": "#f03b58", "TUBB": "#e82050", "x_sm19": "#d01048", "TUBB1": "#ec2450", "FLNA": "#f03048",
    "VIM": "#e23350", "ACTA1": "#df2440", "ACTG1": "#dc1244", "TUBA4A": "#e82850", "TUBA1B": "#e82850", "IGFBP3": "#9b000a",
    "ANGPTL4": "#b21e1e", "CAPZA1": "#c93020", "CA2": "#9c0c12", "KRT10": "#aa1b1b", "KRT9": "#ba2020", "ACOT7": "#aa1020",
    "KRT14": "#a01018", "EHD3": "#a20515", "x_sm20": "#b81018", "HLA-A": "#b0101c", "RAB7A": "#a90e1e", "PFN1": "#f23344",
    "C3": "#b4001a", "THBS2": "#c31e24", "COMP": "#a80f1e", "CORO1A": "#b8102a", "PKLS": "#b2102c", "PRKAR1A": "#c01030",
    "YWHAZ": "#d93248", "YWHAG": "#e02440", "YWHAN": "#ff4060", "x_sm21": "#d83a50", "ACTN1": "#ff6a60", "MYH9": "#e05050",
    "PPP1K": "#aa0a1a", "VCL": "#ff6a5e", "PARVB": "#ff6060", "PTPRJ": "#ff5a66", "PTPRK": "#ff4858", "ILN": "#a0102a",
    "CTSD": "#b81a22", "CD63": "#c81c1c",
    "APOA2": "#df2a8a", "APOC3": "#ff4aa2", "APOA1": "#f13a97", "PLTP": "#ff3098", "ACE": "#e82a8c", "ILK": "#d9247f",
    "HBB": "#e14985", "HBA2": "#ff5f9c", "AGT": "#f35b97", "MYL6": "#e85a9c",
    "GSN": "#af0096", "MARCKS": "#9c0a88", "PIGR": "#eb2ec0", "C1QC": "#b01ab4", "C5": "#ae00a8", "C4BPB": "#c928cc",
    "F13A1": "#a010a4", "SERPINC1": "#a812b0", "SERPIND1": "#ae12b0", "C9": "#b014bc", "C1QA": "#c128c4", "CFB": "#a80ca0",
    "F5": "#b81ac0", "SERPINF2": "#af18b2", "KLKB1": "#a50ca0", "F9": "#ae10ac", "C4B": "#ad00a4", "C4A": "#c92cc8",
    "KNG1": "#b41aba", "SERPINA1": "#b01cb4", "CFH": "#af0fa0", "C8B": "#c41fc4", "C8G": "#b81cc0", "FGG": "#ad0eb5",
    "C1QB": "#a412a8", "F10": "#b81cb8", "CFI": "#a812a8", "C4BPA": "#b015b0", "SERPING1": "#a000a0", "FGB": "#b21ab0",
    "FGA": "#ac05a2", "PROS1": "#a808a8", "B2M": "#c025b0", "THY1": "#ac05a2", "MSN": "#c41acb", "CD81": "#b00fa0",
    "RAB27B": "#ff2ea5", "x_sm22": "#e030a0", "SLC": "#e82aae", "ELN": "#dc25a8", "DPP4": "#d40096", "COL12A1": "#f328ac",
    "CAMP": "#d825a4", "CST3": "#d825a4", "APP": "#de3bc6", "APLP1": "#c224a8", "x_sm23": "#b01588",
    "LUM": "#3f3330", "RAB18": "#4a3a36", "GPC1": "#362b2b", "APOE": "#413e49", "LRP1": "#3e3e42", "PARK7": "#38383c",
}

# name: label centre x, y and font size in points
labels = {
    "A2M": (1285, 996, 86), "FN1": (160, 177, 54.5), "TLN1": (800, 111, 41), "APOA2": (605, 906, 40.5), "APOA1": (835, 1187, 37),
    "HBB": (551, 1459, 42.5), "BGN": (1228, 249, 40.5), "COL1A1": (387, 504, 24.8), "COL1A2": (612, 350, 21.3), "KNG1": (232, 1019, 32.5),
    "FGB": (100, 1367, 32.5), "C9": (308, 777, 24.5), "APOE": (100, 642, 24.8), "ACTA1": (1148, 1459, 22), "ACTG1": (1367, 1495, 22.5),
    "HBA2": (826, 1408, 25), "AGT": (985, 1430, 18.5), "APOC3": (903, 868, 17.6), "CP": (1488, 315, 29.5), "DCN": (1020, 69, 16.3),
    "THBS1": (845, 311, 19.8), "SERPING1": (328, 1247, 16.8), "VCAN": (1024, 406, 19.8), "HAPLN1": (957, 618, 14.2), "PGLYRP2": (1468, 490, 14.7),
    "PON1": (1374, 589, 12.4), "FGA": (280, 1454, 23), "RAP1B": (847, 449, 12), "CD14": (780, 592, 13.2), "SERPINA1": (84, 870, 11.2),
    "FGG": (52, 1102, 16.5), "COL3A1": (591, 660, 9.6), "LUM": (40, 435, 11.3), "COL6A3": (438, 75, 10.2), "COL6A1": (507, 152, 10),
    "VTN": (231, 590, 10.8), "LAMC1": (165, 468, 9.4), "C4BPA": (47, 1239, 9.2), "C1QB": (154, 1193, 7.8), "CFI": (173, 1245, 8),
    "LDHA": (1204, 557, 9.5), "LDHB": (1203, 519, 7.8), "PKM": (1181, 460, 7.8), "PGK1": (1135, 503, 7.2), "GPLD1": (1272, 584, 6.5),
    "GAPDH": (1253, 497, 4.5), "ENO1": (1178, 597, 5), "PYGB": (1288, 534, 4.3), "PGM1": (1140, 567, 3.1), "HK1": (1117, 568, 2.1),
    "TPI1": (1126, 587, 2.8), "TALDO1": (1141, 611, 2.8), "PGD": (1118, 602, 2.2), "ALDOA": (1120, 417, 2.5), "MAN1A1": (1293, 513, 1.7),
    "GLA": (1231, 596, 1.4), "PIP4K2A": (1225, 612, 1.5), "B4GALT1": (1244, 614, 1.5), "GALK1": (1300, 620, 1.2),
    "LCAT": (1315, 457, 9.7), "XYLT1": (1313, 405, 5), "PTGDS": (1377, 451, 3.5), "ANPEP": (1441, 415, 3.4), "OGN": (1230, 454, 2.2),
    "APLP2": (1217, 446, 1.6), "NT5E": (1244, 463, 1.7), "PCYOX1": (1367, 411, 1.5), "CBR1": (1387, 424, 1.4), "PLA2G7": (1398, 440, 1.5),
    "GPX1": (1420, 424, 1.8), "BTD": (1397, 372, 9.5), "GGH": (1405, 254, 5.6), "VNN1": (1537, 226, 7), "GSTO1": (1468, 221, 6.3), "CA1": (1386, 191, 6.5), "CNDP1": (1429, 183, 4.3),
    "GSTP1": (1503, 209, 1.5), "ECH1": (1507, 194, 1.5),
    "SPOCK1": (1195, 91, 4.3), "CKM": (1357, 145, 3.3), "PLOD1": (1395, 160, 2.9), "FAH": (1411, 221, 2.7), "AOC3": (1389, 236, 2), "P4HA2": (1463, 181, 2.1),
    "GOT1": (1372, 153, 1.4), "NAGLU": (1110, 86, 2.5), "ESD": (1102, 48, 2.5), "FUCA2": (1119, 58, 2.2), "FUCA1": (1122, 70, 1.65), "HPSE": (1101, 67, 1.4),
    "UBB": (1112, 24, 5.9), "ST13": (1152, 18, 4.1), "HSPA8": (1182, 46, 6.1), "HSP90AA1": (1229, 26, 2.4), "HTRA1": (1247, 55, 2.6), "PPIA": (1222, 75, 3),
    "CCT5": (1257, 22, 2), "CCT8": (1245, 9, 1.4), "SAR1A": (1291, 32, 3), "CAPN1": (1284, 65, 5.1), "RAB8A": (1258, 91, 2.3), "RAB1A": (1288, 101, 2.2),
    "P4HB": (1309, 97, 2.5), "HSP90B1": (1313, 112, 1.5), "PSMA6": (1273, 18, 1.4), "C1R": (1329, 31, 7.5), "LPA": (1375, 29, 7.7), "C1S": (1349, 87, 8.5),
    "PRSS23": (1439, 45, 7.1), "CPB2": (1409, 96, 2.4), "BMP1": (1458, 105, 3.7), "CPN1": (1433, 139, 6), "PEPD": (1387, 124, 4.9), "C2": (1354, 126, 3.5),
    "RAN": (1493, 19, 3.9), "EIF4A2": (1492, 45, 2.2), "RPS3": (1507, 57, 1.4), "CYFP1": (1488, 64, 1.3), "EEF1A1": (1503, 77, 1.8), "RPL18": (1507, 68, 1.2),
    "MAPRE2": (1538, 30, 3.6), "CDH13": (1536, 60, 4), "SUPT6H": (1506, 122, 5), "KHSRP": (1529, 170, 6.4), "HIST1": (1517, 12, 1.3),
    "ICAM1": (1064, 13, 1.8), "LBP": (1080, 15, 1.4), "BTK": (1080, 36, 2.2), "SDC4": (1084, 108, 2.8), "HSPG2": (1071, 151, 3.9), "SDC1": (1072, 185, 6),
    "AGRN": (1036, 200, 2.4), "CD44": (1055, 216, 4), "GAS6": (1026, 228, 2.6), "PPBP": (1048, 231, 2.6), "IL1RAP": (1079, 234, 3.4), "SDC2": (1041, 251, 5),
    "CD99": (1083, 264, 2.4), "DAG1": (1092, 221, 1.2), "CDH2": (1007, 249, 1.3), "PRRG4": (1081, 253, 1.3), "VASP": (990, 229, 1.4),
    "COL4A2": (337, 48, 6.6), "COL4A1": (369, 15, 4), "COL6A2": (566, 88, 4.4),
    "TNC": (380, 182, 3), "LAMB1": (163, 516, 3.8), "VWF": (303, 674, 6), "ITGA5": (336, 682, 2), "COL2A1": (696, 566, 5), "COL5A1": (671, 620, 5), "LAMC2": (614, 701, 3.2),
    "SERPINE1": (664, 702, 2.7), "CTGF": (681, 672, 1.9), "CSF1": (705, 677, 3.8), "KIT": (720, 706, 4.9), "CSF1R": (756, 708, 3.4), "GMB": (744, 682, 1.2),
    "ITGB3": (572, 14, 3), "CDH1": (605, 20, 3.5), "ITGB1": (591, 44, 3), "ITGA2B": (599, 66, 2.1), "HSPB1": (917, 394, 3), "SRC": (943, 361, 2.6),
    "CD59": (870, 570, 3.2), "NID1": (854, 625, 4.6), "NID2": (866, 656, 2.6), "FCN3": (882, 690, 3.6), "CLIC1": (829, 662, 3.2), "F2": (832, 685, 6.6),
    "PLG": (828, 706, 1.9), "CD9": (814, 717, 3.8), "BST1": (793, 723, 1.9), "ARF5": (848, 725, 4.2), "ARF3": (861, 705, 2.1), "RAB6A": (890, 734, 1.8),
    "CYR61": (900, 721, 1.5), "FBN1": (927, 728, 4.6), "CSPG4": (962, 734, 2.4), "PTPRG": (986, 733, 1.9), "RAB14": (783, 704, 1.6), "RAB11B": (775, 721, 1.3),
    "MCAM": (903, 521, 2.9), "ALCAM": (909, 487, 1.8), "AXL": (892, 502, 1.7), "PVR": (1046, 516, 5.5), "SELL": (1088, 510, 5), "SRGN": (1073, 575, 9.5),
    "BCHE": (1527, 608, 8.7), "QSOX1": (1319, 522, 2.5), "CTBS": (1315, 567, 2.3), "FN3K": (1328, 501, 1.7), "MASP": (1313, 507, 1.3),
    "ACTN1": (1121, 648, 6.2), "MYH9": (1178, 629, 4), "VCL": (1077, 678, 4.9), "PARVB": (1057, 692, 1.9), "PTPRJ": (1039, 706, 1.9), "PTPRK": (1020, 720, 1.2),
    "CTSD": (1022, 732, 2.6), "CD63": (1000, 752, 2.7), "PFN1": (1472, 643, 8), "C3": (1484, 686, 8.8), "THBS2": (1551, 714, 2.4), "COMP": (1550, 739, 2.2),
    "CORO1A": (1382, 643, 1.6), "YWHAZ": (1547, 644, 2.6), "YWHAG": (1531, 666, 2.6), "YWHAN": (1553, 681, 1.4), "PKLS": (1355, 632, 1), "PRKAR1A": (1365, 630, 1.1),
    "KRT2": (1032, 1206, 2.2), "KRT1": (1050, 1237, 3.8), "ARPC1B": (1042, 1258, 2.4), "CFL1": (1043, 1281, 4.2), "ARPC3": (1081, 1273, 1.5), "ARPC4": (1056, 1305, 2.4), "ARPC2": (1042, 1329, 1.7),
    "TUBB1": (1108, 1298, 4.2), "TUBB": (1077, 1321, 3.3), "FLNA": (1217, 1351, 5.2), "VIM": (1290, 1381, 2.6), "IGFBP3": (1527, 1382, 7), "ANGPTL4": (1451, 1410, 5.6), "CAPZA1": (1402, 1413, 1.8),
    "CA2": (1493, 1443, 6), "KRT10": (1524, 1434, 2.1), "KRT9": (1548, 1436, 3.2), "EHD3": (1545, 1466, 2.5), "HLA-A": (1531, 1478, 1.7), "RAB7A": (1551, 1479, 1.8), "ACOT7": (1509, 1465, 1.5),
    "KRT14": (1524, 1458, 1.2), "TUBA4A": (1548, 1512, 2.3), "TUBA1B": (1545, 1543, 2.5), "MYL6": (1040, 1556, 2),
    "PLTP": (492, 1283, 6.4), "ACE": (473, 1311, 1.8), "ILK": (367, 701, 4), "GSN": (317, 697, 6), "MARCKS": (254, 687, 1.5), "PIGR": (237, 691, 2), "C1QC": (232, 722, 7),
    "C5": (187, 739, 6), "C4BPB": (163, 749, 2), "F13A1": (132, 777, 6), "SERPINC1": (232, 767, 1.4), "SERPIND1": (200, 807, 6.2), "C1QA": (371, 828, 1.8), "CFB": (238, 862, 8.2),
    "F5": (276, 855, 4), "SERPINF2": (332, 862, 6), "KLKB1": (367, 908, 4.4), "F9": (391, 926, 2), "C4B": (385, 962, 5), "C4A": (403, 1033, 2.6), "CFH": (11, 833, 1.6), "C8B": (12, 951, 1.8), "C8G": (22, 958, 1.8),
    "F10": (108, 1218, 3.2), "PROS1": (390, 1414, 1.8), "B2M": (20, 1462, 3.4), "THY1": (288, 1520, 1.6), "MSN": (318, 1515, 2.6), "CD81": (238, 1526, 1.9), "RAB27B": (14, 1484, 1.7),
    "ELN": (25, 1490, 2), "DPP4": (20, 1533, 3.8), "COL12A1": (96, 1531, 9.3), "CAMP": (196, 1542, 4.7), "CST3": (176, 1559, 1.4), "APP": (274, 1546, 12), "LRP1": (27, 789, 6),
    "PARK7": (15, 815, 1.8), "GPC1": (90, 474, 3.4), "RAB18": (15, 344, 1.6),
}

# Heavier borders between the groups
heavy_paths = [
    [(8, 825), (247, 678), (985, 748), (991, 779), (1028, 1241), (1051, 1561)],
    [(985, 748), (1110, 618), (1561, 634)],
    [(1110, 618), (1104, 385), (1097, 38), (1086, 8)],
    [(1097, 37), (1561, 210)],
    [(247, 678), (122, 488), (100, 440), (8, 310)],
    [(1028, 1241), (1561, 1500)],
    [(8, 488), (122, 488)],
    [(357, 692), (468, 1320), (330, 1518), (345, 1561)],
    [(468, 1320), (1029, 1301)],
    [(1104, 385), (1305, 506), (1306, 621)],
    [(1305, 506), (1561, 362)],
    [(330, 1518), (218, 1532), (8, 1466)],
    [(991, 779), (1061, 704), (1212, 630), (1252, 625)],
    [(1339, 627), (1531, 737), (1561, 757)],
]
medium_paths = [
    [(1097, 60), (796, 696)],
    [(952, 8), (1000, 258)],
    [(550, 8), (795, 412), (928, 385)],
    [(795, 412), (778, 460), (758, 500), (696, 651), (663, 679), (630, 712)],
    [(696, 651), (763, 688), (796, 696), (782, 726)],
    [(1380, 634), (1561, 689)],
    [(1338, 130), (1385, 249), (1418, 227), (1476, 182)],
    [(1495, 188), (1518, 82), (1561, 90)],
    [(1453, 167), (1483, 92), (1480, 8)],
    [(1506, 8), (1518, 82)],
    [(1327, 121), (1300, 16), (1310, 8)],
    [(1136, 55), (1125, 89), (1098, 106)],
    [(1270, 36), (1246, 88)],
    [(1131, 47), (1131, 8)],
    [(1290, 499), (1212, 619)],
    [(1111, 590), (1188, 617)],
    [(211, 757), (198, 713)],
    [(284, 706), (244, 696), (223, 696), (21, 821)],
    [(1037, 223), (1097, 224)],
    [(1012, 235), (1036, 236), (1091, 251), (1097, 236)],
    [(1023, 212), (1037, 222), (1036, 236)],
    [(849, 672), (832, 623)],
    [(808, 676), (847, 673)],
    [(797, 696), (807, 692), (831, 717), (831, 732)],
    [(858, 688), (906, 738)],
    [(1514, 1474), (1561, 1450)],
    [(1514, 1474), (1543, 1490)],
    [(1095, 1274), (1043, 1341), (1037, 1348)],
    [(1008, 728), (1061, 703)],
    [(1055, 705), (1044, 690)],
    [(320, 1521), (329, 1518), (277, 1524), (197, 1525)],
    [(218, 1532), (214, 1561)],
    [(329, 1518), (339, 1561)],
]
frame_path = [(3.5, 3.5), (1564.5, 3.5), (1564.5, 1564.5), (3.5, 1564.5), (3.5, 3.5)]

sns.set_theme(style="white")
fig = plt.figure(figsize=(10, 10), dpi=251.2, facecolor="black")
ax = fig.add_axes([0, 0, 1, 1])
ax.set_facecolor("black")

for region, outline in region_outlines.items():
    xs, ys = zip(*outline)
    ax.fill(xs, ys, color=region_fills[region], lw=0, zorder=1)

for name, outline in outlines.items():
    xs, ys = zip(*outline)
    ax.fill(xs, ys, facecolor=fills[name], edgecolor="black", linewidth=0.45, joinstyle="round", zorder=2)


def stroke(paths, width):
    for path in paths:
        xs, ys = zip(*path)
        sns.lineplot(x=list(xs), y=list(ys), sort=False, estimator=None, color="black",
                     linewidth=width, ax=ax, legend=False, zorder=3)


stroke(medium_paths, 1.0)
stroke(heavy_paths, 2.1)
stroke([frame_path], 4.0)

for name, (x, y, size) in labels.items():
    ax.text(x, y, name, color="white", fontsize=size, fontweight="bold", family="DejaVu Sans",
            ha="center", va="center_baseline", zorder=4,
            path_effects=[pe.withSimplePatchShadow(offset=(0.35, -0.35), shadow_rgbFace="black", alpha=0.6)])

ax.set_xlim(0, CANVAS)
ax.set_ylim(CANVAS, 0)
ax.set_axis_off()
fig.savefig("out.png", dpi=251.2, facecolor="black")
